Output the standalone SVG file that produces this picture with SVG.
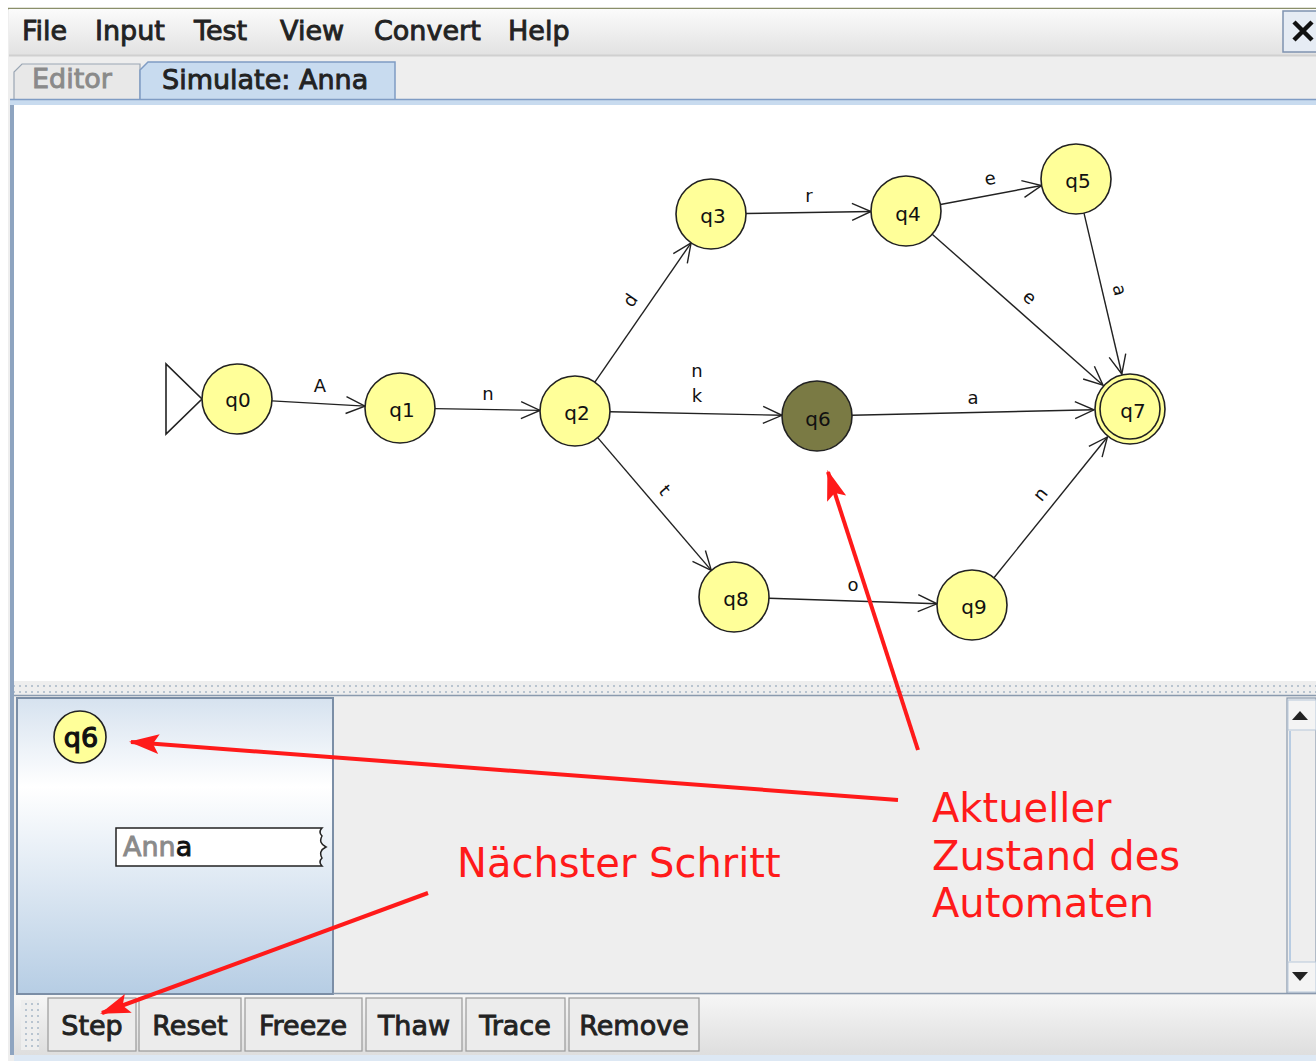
<svg xmlns="http://www.w3.org/2000/svg" width="1316" height="1061" viewBox="0 0 1316 1061">
<style>
.ui{font-family:"DejaVu Sans","Liberation Sans",sans-serif;font-size:27px;fill:#222;stroke:#222;stroke-width:0.9}
.st circle{fill:#ffff99;stroke:#222;stroke-width:1.6}
.st text{font-family:"DejaVu Sans","Liberation Sans",sans-serif;font-size:20px;fill:#111;text-anchor:middle;dominant-baseline:central}
.lbl{font-family:"DejaVu Sans","Liberation Sans",sans-serif;font-size:18px;fill:#111;text-anchor:middle;dominant-baseline:central}
.ed line{stroke:#222;stroke-width:1.4;marker-end:url(#open)}
.red{font-family:"DejaVu Sans","Liberation Sans",sans-serif;font-size:40px;fill:#ff1a1a}
.btn{fill:#ececec;stroke:#9a9a9a;stroke-width:1.2}
.ra{stroke:#ff1a1a;stroke-width:4;fill:none;marker-end:url(#redhead)}
</style>
<defs>
<marker id="open" markerUnits="userSpaceOnUse" markerWidth="24" markerHeight="20" refX="20" refY="10" orient="auto" viewBox="0 0 24 20">
<path d="M1,1.5 L20,10 L1,18.5" fill="none" stroke="#222" stroke-width="1.4"/>
</marker>
<marker id="redhead" markerUnits="userSpaceOnUse" markerWidth="32" markerHeight="24" refX="28" refY="12" orient="auto" viewBox="0 0 32 24">
<path d="M0,2 L30,12 L0,22 L6,12 Z" fill="#ff1a1a"/>
</marker>
<linearGradient id="menuG" x1="0" y1="0" x2="0" y2="1">
<stop offset="0" stop-color="#fbfbfb"/><stop offset="1" stop-color="#e2e2e2"/>
</linearGradient>
<linearGradient id="panelG" x1="0" y1="0" x2="0" y2="1">
<stop offset="0" stop-color="#d6e2ef"/><stop offset="0.3" stop-color="#ffffff"/><stop offset="1" stop-color="#b6cde4"/>
</linearGradient>
<linearGradient id="toolG" x1="0" y1="0" x2="0" y2="1">
<stop offset="0" stop-color="#f6f6f6"/><stop offset="1" stop-color="#dedede"/>
</linearGradient>
<pattern id="dots" width="6" height="6" patternUnits="userSpaceOnUse">
<rect width="6" height="6" fill="#eeeeee"/><rect x="1" y="1" width="2" height="2" fill="#b8c4d0"/>
</pattern>
</defs>

<rect width="1316" height="1061" fill="#ffffff"/>
<!-- window frame -->
<rect x="8" y="8" width="1308" height="1053" fill="#eeeeee"/>
<line x1="8" y1="8.5" x2="1316" y2="8.5" stroke="#8a8f6a" stroke-width="1.5"/>
<!-- menu bar -->
<rect x="9" y="9" width="1307" height="46" fill="url(#menuG)"/>
<line x1="9" y1="55.5" x2="1316" y2="55.5" stroke="#d0d0d0" stroke-width="2"/>
<g class="ui">
<text x="22" y="40">File</text>
<text x="95" y="40">Input</text>
<text x="194" y="40">Test</text>
<text x="280" y="40">View</text>
<text x="374" y="40">Convert</text>
<text x="508" y="40">Help</text>
</g>
<g id="close">
<rect x="1283" y="11" width="36" height="41" fill="#e6ecf4" stroke="#7f93b0" stroke-width="1.5"/>
<path d="M1294,22 L1312,40 M1312,22 L1294,40" stroke="#111" stroke-width="4.5"/>
</g>
<!-- tabs -->
<g id="tab-editor">
<path d="M14,100 L14,72 L22,64 L140,64 L140,100 Z" fill="#e8e8e8" stroke="#9aa6b4" stroke-width="1.2"/>
<text class="ui" x="32" y="88" style="fill:#8a8a8a;stroke:#8a8a8a">Editor</text>
</g>
<g id="tab-sim">
<path d="M140,100 L140,70 L148,62 L395,62 L395,100 Z" fill="#c8dbef" stroke="#7f9cc4" stroke-width="1.5"/>
<text class="ui" x="162" y="89">Simulate: Anna</text>
</g>
<rect x="10" y="99" width="1306" height="6" fill="#c8dbef"/>
<line x1="10" y1="99.5" x2="1316" y2="99.5" stroke="#7f9cc4" stroke-width="1.5"/>
<!-- canvas -->
<rect x="10" y="105" width="4" height="950" fill="#8ea4c0"/>
<rect x="14" y="105" width="1302" height="576" fill="#ffffff"/>
<!-- splitter -->
<rect x="14" y="681" width="1302" height="14" fill="url(#dots)"/>
<line x1="14" y1="695.5" x2="1316" y2="695.5" stroke="#8a9aae" stroke-width="1.5"/>

<!-- connectors -->
<g id="connectors" class="ed">
<line x1="272" y1="400.9" x2="365" y2="406.1"/>
<line x1="435" y1="408.6" x2="540" y2="410.4"/>
<line x1="594.9" y1="382.2" x2="691.1" y2="242.8"/>
<line x1="746" y1="213.5" x2="871" y2="211.5"/>
<line x1="940.4" y1="204.5" x2="1041.6" y2="185.5"/>
<line x1="932.2" y1="234.2" x2="1103" y2="385.2"/>
<line x1="1084" y1="213.1" x2="1121.8" y2="374"/>
<line x1="610" y1="411.7" x2="782" y2="415.3"/>
<line x1="852" y1="415.2" x2="1094" y2="409.8"/>
<line x1="597.7" y1="437.6" x2="711.3" y2="570.4"/>
<line x1="769" y1="598.2" x2="937" y2="603.8"/>
<line x1="994" y1="577.8" x2="1107.4" y2="437"/>
<path d="M166,364 L166,434 L202,399 Z" fill="none" stroke="#222" stroke-width="1.6"/>
</g>
<g id="edge-labels">
<text class="lbl" x="320" y="385">A</text>
<text class="lbl" x="488" y="393">n</text>
<text class="lbl" x="630" y="300" transform="rotate(-55 630 300)">d</text>
<text class="lbl" x="809" y="195">r</text>
<text class="lbl" x="990" y="178" transform="rotate(-11 990 178)">e</text>
<text class="lbl" x="1030" y="297" transform="rotate(41.5 1030 297)">e</text>
<text class="lbl" x="1120" y="290" transform="rotate(77 1120 290)">a</text>
<text class="lbl" x="697" y="370">n</text>
<text class="lbl" x="697" y="395">k</text>
<text class="lbl" x="973" y="397">a</text>
<text class="lbl" x="665" y="490" transform="rotate(49.5 665 490)">t</text>
<text class="lbl" x="853" y="584">o</text>
<text class="lbl" x="1040" y="494" transform="rotate(-51 1040 494)">n</text>
</g>

<!-- states -->
<g id="q0" class="st"><circle cx="237" cy="399" r="35"/><text x="238" y="400">q0</text></g>
<g id="q1" class="st"><circle cx="400" cy="408" r="35"/><text x="402" y="410">q1</text></g>
<g id="q2" class="st"><circle cx="575" cy="411" r="35"/><text x="577" y="413">q2</text></g>
<g id="q3" class="st"><circle cx="711" cy="214" r="35"/><text x="713" y="216">q3</text></g>
<g id="q4" class="st"><circle cx="906" cy="211" r="35"/><text x="908" y="214">q4</text></g>
<g id="q5" class="st"><circle cx="1076" cy="179" r="35"/><text x="1078" y="181">q5</text></g>
<g id="q6" class="st"><circle cx="817" cy="416" r="35" style="fill:#7a7a44"/><text x="818" y="419">q6</text></g>
<g id="q7" class="st"><circle cx="1130" cy="409" r="35"/><circle cx="1130" cy="409" r="30"/><text x="1133" y="411">q7</text></g>
<g id="q8" class="st"><circle cx="734" cy="597" r="35"/><text x="736" y="599">q8</text></g>
<g id="q9" class="st"><circle cx="972" cy="605" r="35"/><text x="974" y="607">q9</text></g>

<!-- bottom panel -->
<rect x="17" y="698" width="316" height="296" fill="url(#panelG)" stroke="#7b8ea6" stroke-width="2"/>
<rect x="334" y="698" width="953" height="295" fill="#eeeeee"/>
<line x1="333" y1="993.5" x2="1316" y2="993.5" stroke="#8a9aae" stroke-width="1.5"/>
<g id="scrollbar">
<rect x="1287" y="698" width="29" height="295" fill="#eeeeee" stroke="#8a9aae" stroke-width="1.2"/>
<rect x="1288" y="700" width="28" height="30" fill="#f4f4f4" stroke="#b8c8da" stroke-width="1"/>
<path d="M1292,720 L1308,720 L1300,711 Z" fill="#222"/>
<rect x="1288" y="962" width="28" height="30" fill="#f4f4f4" stroke="#b8c8da" stroke-width="1"/>
<path d="M1292,972 L1308,972 L1300,981 Z" fill="#222"/>
<line x1="1290" y1="731" x2="1290" y2="961" stroke="#b8cce2" stroke-width="2"/>
</g>
<g id="cur-state">
<circle cx="80" cy="737" r="26" fill="#ffff99" stroke="#222" stroke-width="1.6"/>
<text class="ui" x="81" y="747" text-anchor="middle" style="fill:#111;stroke:#111;stroke-width:1.2">q6</text>
</g>
<g id="tape">
<path d="M116,828 L322,828 Q318,832 322,836 Q318,843 326,847 Q318,851 322,858 Q318,862 322,866 L116,866 Z" fill="#ffffff" stroke="#222" stroke-width="1.5"/>
<text class="ui" x="123" y="856"><tspan style="fill:#8a8a8a;stroke:#8a8a8a">Ann</tspan><tspan style="fill:#111;stroke:#111">a</tspan></text>
</g>

<!-- toolbar -->
<rect x="14" y="995" width="1302" height="60" fill="url(#toolG)"/>
<rect x="21" y="1000" width="18" height="50" fill="url(#dots)"/>
<g id="buttons">
<g id="b-step"><rect class="btn" x="48" y="998" width="88" height="53"/><text class="ui" x="92" y="1035" text-anchor="middle">Step</text></g>
<g id="b-reset"><rect class="btn" x="139" y="998" width="102" height="53"/><text class="ui" x="190" y="1035" text-anchor="middle">Reset</text></g>
<g id="b-freeze"><rect class="btn" x="245" y="998" width="117" height="53"/><text class="ui" x="303" y="1035" text-anchor="middle">Freeze</text></g>
<g id="b-thaw"><rect class="btn" x="366" y="998" width="96" height="53"/><text class="ui" x="414" y="1035" text-anchor="middle">Thaw</text></g>
<g id="b-trace"><rect class="btn" x="466" y="998" width="99" height="53"/><text class="ui" x="515" y="1035" text-anchor="middle">Trace</text></g>
<g id="b-remove"><rect class="btn" x="569" y="998" width="130" height="53"/><text class="ui" x="634" y="1035" text-anchor="middle">Remove</text></g>
</g>
<rect x="14" y="1055" width="1302" height="6" fill="#dde8f4"/>

<!-- annotations -->
<g id="annotations">
<line class="ra" x1="918" y1="750" x2="828" y2="472"/>
<line class="ra" x1="898" y1="800" x2="131" y2="742"/>
<line class="ra" x1="428" y1="893" x2="102" y2="1013"/>
<text class="red" x="932" y="822">Aktueller</text>
<text class="red" x="932" y="870">Zustand des</text>
<text class="red" x="932" y="917">Automaten</text>
<text class="red" x="457" y="877">Nächster Schritt</text>
</g>
</svg>
